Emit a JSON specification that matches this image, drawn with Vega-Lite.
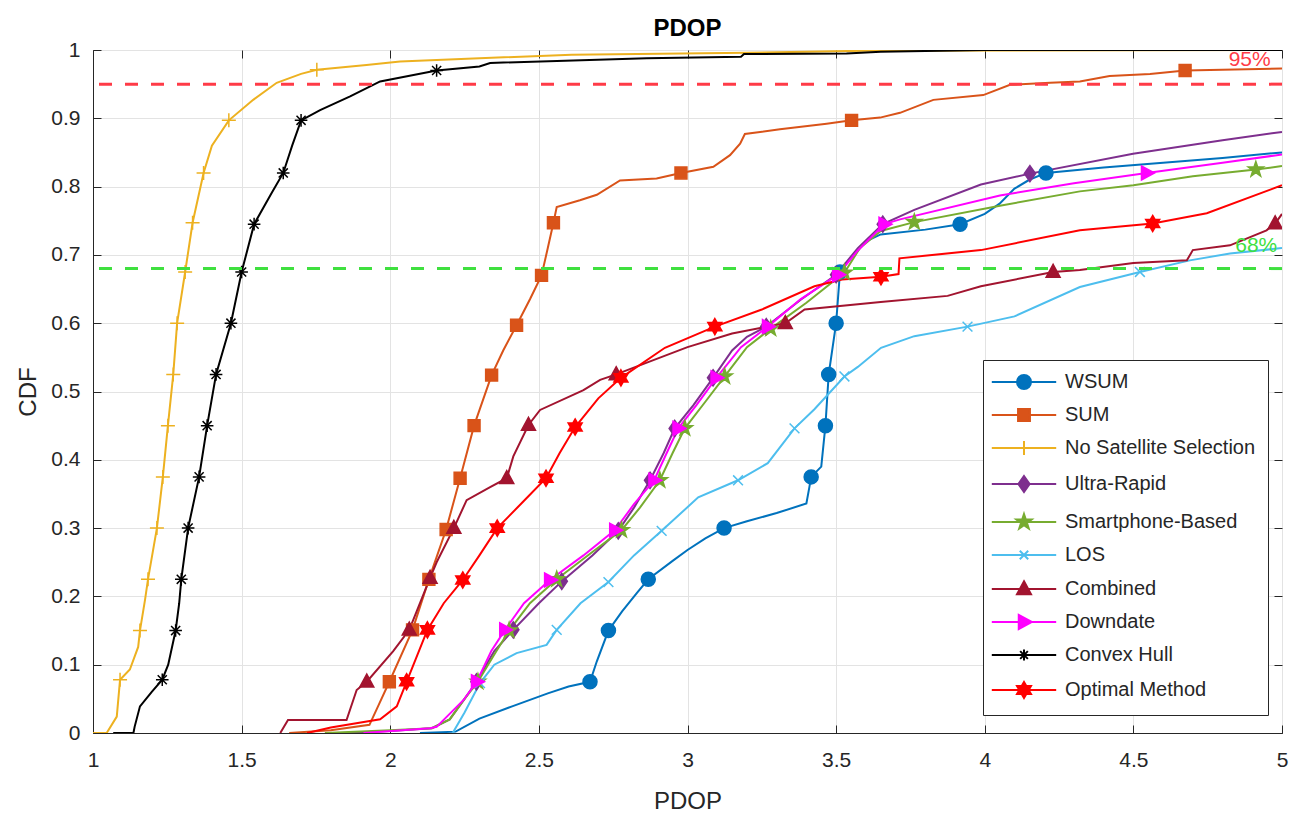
{
  "$schema": "https://vega.github.io/schema/vega-lite/v6.json",
  "width": 1189,
  "height": 683,
  "autosize": {"type": "none"},
  "padding": {"left": 93, "top": 50, "right": 7, "bottom": 85},
  "background": "white",
  "config": {
    "font": "Liberation Sans",
    "view": {"stroke": "#262626", "strokeWidth": 1},
    "axis": {
      "labelFont": "Liberation Sans", "labelFontSize": 21, "labelColor": "#262626",
      "titleFont": "Liberation Sans", "titleFontSize": 24, "titleFontWeight": "normal", "titleColor": "#262626",
      "gridColor": "#e3e3e3", "gridWidth": 1, "domainColor": "#262626", "tickColor": "#262626", "tickSize": -8
    }
  },
  "title": {"text": "PDOP", "fontSize": 24, "fontWeight": "bold", "font": "Liberation Sans", "color": "#000000", "offset": -2},
  "datasets": {
    "curves": [
      {"s":"WSUM","x":2.10,"y":0},{"s":"WSUM","x":2.22,"y":0.002},{"s":"WSUM","x":2.30,"y":0.021},{"s":"WSUM","x":2.41,"y":0.039},{"s":"WSUM","x":2.53,"y":0.058},{"s":"WSUM","x":2.60,"y":0.068},{"s":"WSUM","x":2.672,"y":0.075},{"s":"WSUM","x":2.695,"y":0.105},{"s":"WSUM","x":2.734,"y":0.15},{"s":"WSUM","x":2.78,"y":0.178},{"s":"WSUM","x":2.83,"y":0.205},{"s":"WSUM","x":2.868,"y":0.225},{"s":"WSUM","x":2.95,"y":0.252},{"s":"WSUM","x":3.0,"y":0.268},{"s":"WSUM","x":3.06,"y":0.285},{"s":"WSUM","x":3.123,"y":0.3},{"s":"WSUM","x":3.2,"y":0.31},{"s":"WSUM","x":3.3,"y":0.322},{"s":"WSUM","x":3.40,"y":0.336},{"s":"WSUM","x":3.41,"y":0.36},{"s":"WSUM","x":3.416,"y":0.375},{"s":"WSUM","x":3.45,"y":0.39},{"s":"WSUM","x":3.464,"y":0.45},{"s":"WSUM","x":3.475,"y":0.525},{"s":"WSUM","x":3.5,"y":0.6},{"s":"WSUM","x":3.513,"y":0.675},{"s":"WSUM","x":3.54,"y":0.69},{"s":"WSUM","x":3.6,"y":0.72},{"s":"WSUM","x":3.65,"y":0.73},{"s":"WSUM","x":3.8,"y":0.737},{"s":"WSUM","x":3.917,"y":0.745},{"s":"WSUM","x":4.0,"y":0.76},{"s":"WSUM","x":4.05,"y":0.775},{"s":"WSUM","x":4.1,"y":0.797},{"s":"WSUM","x":4.15,"y":0.81},{"s":"WSUM","x":4.206,"y":0.82},{"s":"WSUM","x":4.4,"y":0.828},{"s":"WSUM","x":4.6,"y":0.835},{"s":"WSUM","x":4.8,"y":0.842},{"s":"WSUM","x":5.0,"y":0.85},

      {"s":"SUM","x":1.66,"y":0},{"s":"SUM","x":1.8,"y":0.004},{"s":"SUM","x":1.93,"y":0.012},{"s":"SUM","x":1.96,"y":0.04},{"s":"SUM","x":1.997,"y":0.075},{"s":"SUM","x":2.075,"y":0.151},{"s":"SUM","x":2.13,"y":0.225},{"s":"SUM","x":2.188,"y":0.298},{"s":"SUM","x":2.235,"y":0.373},{"s":"SUM","x":2.282,"y":0.45},{"s":"SUM","x":2.341,"y":0.524},{"s":"SUM","x":2.38,"y":0.56},{"s":"SUM","x":2.425,"y":0.597},{"s":"SUM","x":2.47,"y":0.635},{"s":"SUM","x":2.509,"y":0.67},{"s":"SUM","x":2.53,"y":0.71},{"s":"SUM","x":2.549,"y":0.747},{"s":"SUM","x":2.56,"y":0.77},{"s":"SUM","x":2.638,"y":0.78},{"s":"SUM","x":2.695,"y":0.788},{"s":"SUM","x":2.773,"y":0.809},{"s":"SUM","x":2.896,"y":0.812},{"s":"SUM","x":2.978,"y":0.82},{"s":"SUM","x":3.087,"y":0.829},{"s":"SUM","x":3.143,"y":0.846},{"s":"SUM","x":3.177,"y":0.863},{"s":"SUM","x":3.193,"y":0.877},{"s":"SUM","x":3.311,"y":0.884},{"s":"SUM","x":3.468,"y":0.892},{"s":"SUM","x":3.552,"y":0.897},{"s":"SUM","x":3.648,"y":0.901},{"s":"SUM","x":3.715,"y":0.908},{"s":"SUM","x":3.827,"y":0.927},{"s":"SUM","x":3.995,"y":0.934},{"s":"SUM","x":4.085,"y":0.949},{"s":"SUM","x":4.22,"y":0.952},{"s":"SUM","x":4.32,"y":0.954},{"s":"SUM","x":4.42,"y":0.962},{"s":"SUM","x":4.556,"y":0.965},{"s":"SUM","x":4.674,"y":0.97},{"s":"SUM","x":5.0,"y":0.973},

      {"s":"No Satellite Selection","x":1.0,"y":0},{"s":"No Satellite Selection","x":1.046,"y":0},{"s":"No Satellite Selection","x":1.08,"y":0.024},{"s":"No Satellite Selection","x":1.091,"y":0.078},{"s":"No Satellite Selection","x":1.124,"y":0.093},{"s":"No Satellite Selection","x":1.152,"y":0.126},{"s":"No Satellite Selection","x":1.158,"y":0.15},{"s":"No Satellite Selection","x":1.175,"y":0.195},{"s":"No Satellite Selection","x":1.185,"y":0.225},{"s":"No Satellite Selection","x":1.215,"y":0.3},{"s":"No Satellite Selection","x":1.235,"y":0.375},{"s":"No Satellite Selection","x":1.252,"y":0.45},{"s":"No Satellite Selection","x":1.27,"y":0.525},{"s":"No Satellite Selection","x":1.283,"y":0.6},{"s":"No Satellite Selection","x":1.31,"y":0.675},{"s":"No Satellite Selection","x":1.335,"y":0.747},{"s":"No Satellite Selection","x":1.372,"y":0.82},{"s":"No Satellite Selection","x":1.40,"y":0.86},{"s":"No Satellite Selection","x":1.457,"y":0.897},{"s":"No Satellite Selection","x":1.539,"y":0.927},{"s":"No Satellite Selection","x":1.618,"y":0.952},{"s":"No Satellite Selection","x":1.70,"y":0.965},{"s":"No Satellite Selection","x":1.753,"y":0.971},{"s":"No Satellite Selection","x":1.92,"y":0.978},{"s":"No Satellite Selection","x":2.033,"y":0.983},{"s":"No Satellite Selection","x":2.30,"y":0.988},{"s":"No Satellite Selection","x":2.61,"y":0.993},{"s":"No Satellite Selection","x":3.2,"y":0.996},{"s":"No Satellite Selection","x":3.6,"y":0.999},{"s":"No Satellite Selection","x":5.0,"y":1.0},

      {"s":"Ultra-Rapid","x":1.85,"y":0},{"s":"Ultra-Rapid","x":2.0,"y":0.003},{"s":"Ultra-Rapid","x":2.14,"y":0.007},{"s":"Ultra-Rapid","x":2.2,"y":0.02},{"s":"Ultra-Rapid","x":2.25,"y":0.05},{"s":"Ultra-Rapid","x":2.29,"y":0.075},{"s":"Ultra-Rapid","x":2.35,"y":0.12},{"s":"Ultra-Rapid","x":2.414,"y":0.151},{"s":"Ultra-Rapid","x":2.5,"y":0.19},{"s":"Ultra-Rapid","x":2.577,"y":0.222},{"s":"Ultra-Rapid","x":2.68,"y":0.26},{"s":"Ultra-Rapid","x":2.767,"y":0.296},{"s":"Ultra-Rapid","x":2.82,"y":0.33},{"s":"Ultra-Rapid","x":2.874,"y":0.37},{"s":"Ultra-Rapid","x":2.92,"y":0.41},{"s":"Ultra-Rapid","x":2.957,"y":0.446},{"s":"Ultra-Rapid","x":3.02,"y":0.48},{"s":"Ultra-Rapid","x":3.086,"y":0.52},{"s":"Ultra-Rapid","x":3.15,"y":0.56},{"s":"Ultra-Rapid","x":3.2,"y":0.58},{"s":"Ultra-Rapid","x":3.265,"y":0.595},{"s":"Ultra-Rapid","x":3.383,"y":0.635},{"s":"Ultra-Rapid","x":3.5,"y":0.671},{"s":"Ultra-Rapid","x":3.573,"y":0.71},{"s":"Ultra-Rapid","x":3.657,"y":0.745},{"s":"Ultra-Rapid","x":3.763,"y":0.766},{"s":"Ultra-Rapid","x":3.987,"y":0.803},{"s":"Ultra-Rapid","x":4.152,"y":0.819},{"s":"Ultra-Rapid","x":4.499,"y":0.848},{"s":"Ultra-Rapid","x":4.8,"y":0.868},{"s":"Ultra-Rapid","x":5.0,"y":0.88},

      {"s":"Smartphone-Based","x":1.78,"y":0},{"s":"Smartphone-Based","x":2.0,"y":0.004},{"s":"Smartphone-Based","x":2.14,"y":0.007},{"s":"Smartphone-Based","x":2.2,"y":0.02},{"s":"Smartphone-Based","x":2.25,"y":0.05},{"s":"Smartphone-Based","x":2.295,"y":0.075},{"s":"Smartphone-Based","x":2.35,"y":0.115},{"s":"Smartphone-Based","x":2.40,"y":0.15},{"s":"Smartphone-Based","x":2.47,"y":0.19},{"s":"Smartphone-Based","x":2.56,"y":0.225},{"s":"Smartphone-Based","x":2.68,"y":0.265},{"s":"Smartphone-Based","x":2.778,"y":0.297},{"s":"Smartphone-Based","x":2.84,"y":0.33},{"s":"Smartphone-Based","x":2.907,"y":0.37},{"s":"Smartphone-Based","x":2.95,"y":0.41},{"s":"Smartphone-Based","x":2.991,"y":0.446},{"s":"Smartphone-Based","x":3.06,"y":0.485},{"s":"Smartphone-Based","x":3.125,"y":0.522},{"s":"Smartphone-Based","x":3.2,"y":0.565},{"s":"Smartphone-Based","x":3.28,"y":0.592},{"s":"Smartphone-Based","x":3.4,"y":0.63},{"s":"Smartphone-Based","x":3.528,"y":0.674},{"s":"Smartphone-Based","x":3.58,"y":0.71},{"s":"Smartphone-Based","x":3.65,"y":0.735},{"s":"Smartphone-Based","x":3.763,"y":0.748},{"s":"Smartphone-Based","x":4.051,"y":0.772},{"s":"Smartphone-Based","x":4.32,"y":0.793},{"s":"Smartphone-Based","x":4.5,"y":0.802},{"s":"Smartphone-Based","x":4.7,"y":0.815},{"s":"Smartphone-Based","x":4.912,"y":0.825},{"s":"Smartphone-Based","x":5.0,"y":0.83},

      {"s":"LOS","x":2.21,"y":0},{"s":"LOS","x":2.25,"y":0.03},{"s":"LOS","x":2.302,"y":0.073},{"s":"LOS","x":2.35,"y":0.1},{"s":"LOS","x":2.425,"y":0.117},{"s":"LOS","x":2.526,"y":0.129},{"s":"LOS","x":2.56,"y":0.151},{"s":"LOS","x":2.64,"y":0.19},{"s":"LOS","x":2.734,"y":0.221},{"s":"LOS","x":2.82,"y":0.26},{"s":"LOS","x":2.913,"y":0.296},{"s":"LOS","x":3.036,"y":0.345},{"s":"LOS","x":3.17,"y":0.37},{"s":"LOS","x":3.27,"y":0.395},{"s":"LOS","x":3.36,"y":0.446},{"s":"LOS","x":3.427,"y":0.474},{"s":"LOS","x":3.528,"y":0.522},{"s":"LOS","x":3.573,"y":0.536},{"s":"LOS","x":3.651,"y":0.564},{"s":"LOS","x":3.763,"y":0.581},{"s":"LOS","x":3.942,"y":0.595},{"s":"LOS","x":4.1,"y":0.61},{"s":"LOS","x":4.32,"y":0.653},{"s":"LOS","x":4.522,"y":0.675},{"s":"LOS","x":4.69,"y":0.692},{"s":"LOS","x":4.825,"y":0.702},{"s":"LOS","x":5.0,"y":0.71},

      {"s":"Combined","x":1.63,"y":0},{"s":"Combined","x":1.656,"y":0.019},{"s":"Combined","x":1.853,"y":0.019},{"s":"Combined","x":1.887,"y":0.063},{"s":"Combined","x":1.921,"y":0.075},{"s":"Combined","x":2.01,"y":0.12},{"s":"Combined","x":2.064,"y":0.151},{"s":"Combined","x":2.134,"y":0.227},{"s":"Combined","x":2.156,"y":0.25},{"s":"Combined","x":2.214,"y":0.30},{"s":"Combined","x":2.257,"y":0.341},{"s":"Combined","x":2.336,"y":0.36},{"s":"Combined","x":2.392,"y":0.373},{"s":"Combined","x":2.414,"y":0.405},{"s":"Combined","x":2.465,"y":0.451},{"s":"Combined","x":2.504,"y":0.473},{"s":"Combined","x":2.65,"y":0.502},{"s":"Combined","x":2.706,"y":0.517},{"s":"Combined","x":2.76,"y":0.525},{"s":"Combined","x":2.85,"y":0.54},{"s":"Combined","x":3.0,"y":0.565},{"s":"Combined","x":3.15,"y":0.585},{"s":"Combined","x":3.329,"y":0.6},{"s":"Combined","x":3.394,"y":0.62},{"s":"Combined","x":3.65,"y":0.631},{"s":"Combined","x":3.875,"y":0.64},{"s":"Combined","x":3.987,"y":0.654},{"s":"Combined","x":4.23,"y":0.675},{"s":"Combined","x":4.32,"y":0.678},{"s":"Combined","x":4.5,"y":0.688},{"s":"Combined","x":4.68,"y":0.692},{"s":"Combined","x":4.70,"y":0.707},{"s":"Combined","x":4.825,"y":0.714},{"s":"Combined","x":4.948,"y":0.736},{"s":"Combined","x":4.977,"y":0.746},{"s":"Combined","x":5.0,"y":0.76},

      {"s":"Downdate","x":1.91,"y":0},{"s":"Downdate","x":2.134,"y":0.007},{"s":"Downdate","x":2.156,"y":0.009},{"s":"Downdate","x":2.246,"y":0.048},{"s":"Downdate","x":2.291,"y":0.075},{"s":"Downdate","x":2.34,"y":0.12},{"s":"Downdate","x":2.386,"y":0.151},{"s":"Downdate","x":2.45,"y":0.19},{"s":"Downdate","x":2.537,"y":0.224},{"s":"Downdate","x":2.65,"y":0.26},{"s":"Downdate","x":2.756,"y":0.297},{"s":"Downdate","x":2.82,"y":0.335},{"s":"Downdate","x":2.888,"y":0.37},{"s":"Downdate","x":2.93,"y":0.41},{"s":"Downdate","x":2.969,"y":0.446},{"s":"Downdate","x":3.03,"y":0.48},{"s":"Downdate","x":3.097,"y":0.52},{"s":"Downdate","x":3.18,"y":0.565},{"s":"Downdate","x":3.27,"y":0.595},{"s":"Downdate","x":3.38,"y":0.635},{"s":"Downdate","x":3.506,"y":0.671},{"s":"Downdate","x":3.57,"y":0.705},{"s":"Downdate","x":3.662,"y":0.745},{"s":"Downdate","x":3.715,"y":0.752},{"s":"Downdate","x":4.051,"y":0.787},{"s":"Downdate","x":4.3,"y":0.805},{"s":"Downdate","x":4.545,"y":0.82},{"s":"Downdate","x":4.8,"y":0.835},{"s":"Downdate","x":5.0,"y":0.847},

      {"s":"Convex Hull","x":1.068,"y":0},{"s":"Convex Hull","x":1.136,"y":0},{"s":"Convex Hull","x":1.14,"y":0.009},{"s":"Convex Hull","x":1.158,"y":0.039},{"s":"Convex Hull","x":1.197,"y":0.06},{"s":"Convex Hull","x":1.233,"y":0.078},{"s":"Convex Hull","x":1.253,"y":0.1},{"s":"Convex Hull","x":1.278,"y":0.15},{"s":"Convex Hull","x":1.29,"y":0.19},{"s":"Convex Hull","x":1.297,"y":0.225},{"s":"Convex Hull","x":1.32,"y":0.3},{"s":"Convex Hull","x":1.357,"y":0.375},{"s":"Convex Hull","x":1.384,"y":0.45},{"s":"Convex Hull","x":1.414,"y":0.525},{"s":"Convex Hull","x":1.464,"y":0.6},{"s":"Convex Hull","x":1.50,"y":0.675},{"s":"Convex Hull","x":1.542,"y":0.745},{"s":"Convex Hull","x":1.60,"y":0.79},{"s":"Convex Hull","x":1.64,"y":0.82},{"s":"Convex Hull","x":1.67,"y":0.86},{"s":"Convex Hull","x":1.70,"y":0.897},{"s":"Convex Hull","x":1.764,"y":0.912},{"s":"Convex Hull","x":1.865,"y":0.932},{"s":"Convex Hull","x":1.966,"y":0.954},{"s":"Convex Hull","x":2.156,"y":0.97},{"s":"Convex Hull","x":2.30,"y":0.976},{"s":"Convex Hull","x":2.336,"y":0.981},{"s":"Convex Hull","x":2.863,"y":0.988},{"s":"Convex Hull","x":3.18,"y":0.99},{"s":"Convex Hull","x":3.19,"y":0.994},{"s":"Convex Hull","x":3.535,"y":0.995},{"s":"Convex Hull","x":3.65,"y":0.9975},{"s":"Convex Hull","x":4.0,"y":1.0},{"s":"Convex Hull","x":5.0,"y":1.0},

      {"s":"Optimal Method","x":1.72,"y":0},{"s":"Optimal Method","x":1.8,"y":0.008},{"s":"Optimal Method","x":1.966,"y":0.02},{"s":"Optimal Method","x":2.022,"y":0.039},{"s":"Optimal Method","x":2.055,"y":0.075},{"s":"Optimal Method","x":2.125,"y":0.151},{"s":"Optimal Method","x":2.18,"y":0.19},{"s":"Optimal Method","x":2.244,"y":0.224},{"s":"Optimal Method","x":2.30,"y":0.26},{"s":"Optimal Method","x":2.36,"y":0.30},{"s":"Optimal Method","x":2.45,"y":0.34},{"s":"Optimal Method","x":2.524,"y":0.373},{"s":"Optimal Method","x":2.57,"y":0.41},{"s":"Optimal Method","x":2.622,"y":0.448},{"s":"Optimal Method","x":2.7,"y":0.49},{"s":"Optimal Method","x":2.776,"y":0.52},{"s":"Optimal Method","x":2.924,"y":0.564},{"s":"Optimal Method","x":3.092,"y":0.595},{"s":"Optimal Method","x":3.25,"y":0.62},{"s":"Optimal Method","x":3.427,"y":0.654},{"s":"Optimal Method","x":3.52,"y":0.664},{"s":"Optimal Method","x":3.651,"y":0.668},{"s":"Optimal Method","x":3.71,"y":0.672},{"s":"Optimal Method","x":3.713,"y":0.695},{"s":"Optimal Method","x":3.987,"y":0.707},{"s":"Optimal Method","x":4.32,"y":0.736},{"s":"Optimal Method","x":4.565,"y":0.746},{"s":"Optimal Method","x":4.747,"y":0.761},{"s":"Optimal Method","x":5.0,"y":0.802}
    ],
    "marks": [
      {"s":"WSUM","x":2.672,"y":0.075},{"s":"WSUM","x":2.734,"y":0.15},{"s":"WSUM","x":2.868,"y":0.225},{"s":"WSUM","x":3.123,"y":0.3},{"s":"WSUM","x":3.416,"y":0.375},{"s":"WSUM","x":3.464,"y":0.45},{"s":"WSUM","x":3.475,"y":0.525},{"s":"WSUM","x":3.5,"y":0.6},{"s":"WSUM","x":3.513,"y":0.675},{"s":"WSUM","x":3.917,"y":0.745},{"s":"WSUM","x":4.206,"y":0.82},
      {"s":"SUM","x":1.997,"y":0.075},{"s":"SUM","x":2.075,"y":0.151},{"s":"SUM","x":2.13,"y":0.225},{"s":"SUM","x":2.188,"y":0.298},{"s":"SUM","x":2.235,"y":0.373},{"s":"SUM","x":2.282,"y":0.45},{"s":"SUM","x":2.341,"y":0.524},{"s":"SUM","x":2.425,"y":0.597},{"s":"SUM","x":2.509,"y":0.67},{"s":"SUM","x":2.549,"y":0.747},{"s":"SUM","x":2.978,"y":0.82},{"s":"SUM","x":3.552,"y":0.897},{"s":"SUM","x":4.674,"y":0.97},
      {"s":"No Satellite Selection","x":1.091,"y":0.078},{"s":"No Satellite Selection","x":1.158,"y":0.15},{"s":"No Satellite Selection","x":1.185,"y":0.225},{"s":"No Satellite Selection","x":1.215,"y":0.3},{"s":"No Satellite Selection","x":1.235,"y":0.375},{"s":"No Satellite Selection","x":1.252,"y":0.45},{"s":"No Satellite Selection","x":1.27,"y":0.525},{"s":"No Satellite Selection","x":1.283,"y":0.6},{"s":"No Satellite Selection","x":1.31,"y":0.675},{"s":"No Satellite Selection","x":1.335,"y":0.747},{"s":"No Satellite Selection","x":1.372,"y":0.82},{"s":"No Satellite Selection","x":1.457,"y":0.897},{"s":"No Satellite Selection","x":1.753,"y":0.971},
      {"s":"Ultra-Rapid","x":2.29,"y":0.075},{"s":"Ultra-Rapid","x":2.414,"y":0.151},{"s":"Ultra-Rapid","x":2.577,"y":0.222},{"s":"Ultra-Rapid","x":2.767,"y":0.296},{"s":"Ultra-Rapid","x":2.874,"y":0.37},{"s":"Ultra-Rapid","x":2.957,"y":0.446},{"s":"Ultra-Rapid","x":3.086,"y":0.52},{"s":"Ultra-Rapid","x":3.265,"y":0.595},{"s":"Ultra-Rapid","x":3.5,"y":0.671},{"s":"Ultra-Rapid","x":3.657,"y":0.745},{"s":"Ultra-Rapid","x":4.152,"y":0.819},
      {"s":"Smartphone-Based","x":2.295,"y":0.075},{"s":"Smartphone-Based","x":2.40,"y":0.15},{"s":"Smartphone-Based","x":2.56,"y":0.225},{"s":"Smartphone-Based","x":2.778,"y":0.297},{"s":"Smartphone-Based","x":2.907,"y":0.37},{"s":"Smartphone-Based","x":2.991,"y":0.446},{"s":"Smartphone-Based","x":3.125,"y":0.522},{"s":"Smartphone-Based","x":3.28,"y":0.592},{"s":"Smartphone-Based","x":3.528,"y":0.674},{"s":"Smartphone-Based","x":3.763,"y":0.748},{"s":"Smartphone-Based","x":4.912,"y":0.825},
      {"s":"LOS","x":2.302,"y":0.073},{"s":"LOS","x":2.56,"y":0.151},{"s":"LOS","x":2.734,"y":0.221},{"s":"LOS","x":2.913,"y":0.296},{"s":"LOS","x":3.17,"y":0.37},{"s":"LOS","x":3.36,"y":0.446},{"s":"LOS","x":3.528,"y":0.522},{"s":"LOS","x":3.942,"y":0.595},{"s":"LOS","x":4.522,"y":0.675},
      {"s":"Combined","x":1.921,"y":0.075},{"s":"Combined","x":2.064,"y":0.151},{"s":"Combined","x":2.134,"y":0.227},{"s":"Combined","x":2.214,"y":0.30},{"s":"Combined","x":2.392,"y":0.373},{"s":"Combined","x":2.465,"y":0.451},{"s":"Combined","x":2.76,"y":0.525},{"s":"Combined","x":3.329,"y":0.6},{"s":"Combined","x":4.23,"y":0.675},{"s":"Combined","x":4.977,"y":0.746},
      {"s":"Downdate","x":2.291,"y":0.075},{"s":"Downdate","x":2.386,"y":0.151},{"s":"Downdate","x":2.537,"y":0.224},{"s":"Downdate","x":2.756,"y":0.297},{"s":"Downdate","x":2.888,"y":0.37},{"s":"Downdate","x":2.969,"y":0.446},{"s":"Downdate","x":3.097,"y":0.52},{"s":"Downdate","x":3.27,"y":0.595},{"s":"Downdate","x":3.506,"y":0.671},{"s":"Downdate","x":3.662,"y":0.745},{"s":"Downdate","x":4.545,"y":0.82},
      {"s":"Convex Hull","x":1.233,"y":0.078},{"s":"Convex Hull","x":1.278,"y":0.15},{"s":"Convex Hull","x":1.297,"y":0.225},{"s":"Convex Hull","x":1.32,"y":0.3},{"s":"Convex Hull","x":1.357,"y":0.375},{"s":"Convex Hull","x":1.384,"y":0.45},{"s":"Convex Hull","x":1.414,"y":0.525},{"s":"Convex Hull","x":1.464,"y":0.6},{"s":"Convex Hull","x":1.50,"y":0.675},{"s":"Convex Hull","x":1.542,"y":0.745},{"s":"Convex Hull","x":1.64,"y":0.82},{"s":"Convex Hull","x":1.70,"y":0.897},{"s":"Convex Hull","x":2.156,"y":0.97},
      {"s":"Optimal Method","x":2.055,"y":0.075},{"s":"Optimal Method","x":2.125,"y":0.151},{"s":"Optimal Method","x":2.244,"y":0.224},{"s":"Optimal Method","x":2.36,"y":0.30},{"s":"Optimal Method","x":2.524,"y":0.373},{"s":"Optimal Method","x":2.622,"y":0.448},{"s":"Optimal Method","x":2.776,"y":0.52},{"s":"Optimal Method","x":3.092,"y":0.595},{"s":"Optimal Method","x":3.651,"y":0.668},{"s":"Optimal Method","x":4.565,"y":0.746}
    ],
    "refs": [{"k":"95%","y":0.95},{"k":"68%","y":0.68}],
    "notes": [{"k":"95%","x":4.962,"y":0.985,"t":"95%"},{"k":"68%","x":4.984,"y":0.713,"t":"68%"}]
  },
  "layer": [
    {
      "data": {"name": "curves"},
      "mark": {"type": "line", "strokeWidth": 2, "clip": true},
      "encoding": {
        "x": {"field": "x", "type": "quantitative",
              "scale": {"domain": [1, 5], "nice": false, "zero": false},
              "axis": {"orient": "bottom", "title": "PDOP", "values": [1,1.5,2,2.5,3,3.5,4,4.5,5], "format": ".1~f", "grid": true, "labelPadding": 24, "titlePadding": 19, "labelFlush": false}},
        "y": {"field": "y", "type": "quantitative",
              "scale": {"domain": [0, 1], "nice": false},
              "axis": {"orient": "left", "title": "CDF", "values": [0,0.1,0.2,0.3,0.4,0.5,0.6,0.7,0.8,0.9,1], "format": ".1~f", "grid": true, "labelPadding": 21, "titlePadding": 10, "labelFlush": false}},
        "stroke": {"field": "s", "type": "nominal", "legend": null,
                   "scale": {"domain": ["WSUM","SUM","No Satellite Selection","Ultra-Rapid","Smartphone-Based","LOS","Combined","Downdate","Convex Hull","Optimal Method"],
                             "range": ["#0072BD","#D95319","#EDB120","#7E2F8E","#77AC30","#4DBEEE","#A2142F","#FF00FF","#000000","#FF0000"]}}
      }
    },
    {
      "data": {"name": "marks"},
      "mark": {"type": "point", "filled": true, "size": 196, "opacity": 1, "strokeWidth": 1.5, "clip": true},
      "encoding": {
        "x": {"field": "x", "type": "quantitative", "axis": null},
        "y": {"field": "y", "type": "quantitative", "axis": null},
        "fill": {"field": "s", "type": "nominal", "legend": null,
                 "scale": {"domain": ["WSUM","SUM","No Satellite Selection","Ultra-Rapid","Smartphone-Based","LOS","Combined","Downdate","Convex Hull","Optimal Method"],
                           "range": ["#0072BD","#D95319","#EDB120","#7E2F8E","#77AC30","#4DBEEE","#A2142F","#FF00FF","#000000","#FF0000"]}},
        "stroke": {"field": "s", "type": "nominal", "legend": null,
                   "scale": {"domain": ["WSUM","SUM","No Satellite Selection","Ultra-Rapid","Smartphone-Based","LOS","Combined","Downdate","Convex Hull","Optimal Method"],
                             "range": ["#0072BD","#D95319","#EDB120","#7E2F8E","#77AC30","#4DBEEE","#A2142F","#FF00FF","#000000","#FF0000"]}},
        "shape": {"field": "s", "type": "nominal", "legend": null,
                  "scale": {"domain": ["WSUM","SUM","No Satellite Selection","Ultra-Rapid","Smartphone-Based","LOS","Combined","Downdate","Convex Hull","Optimal Method"],
                            "range": [
                              "M1,0A1,1 0 1,1 -1,0A1,1 0 1,1 1,0Z",
                              "M-0.85,-0.85H0.85V0.85H-0.85Z",
                              "M-1,0H1M0,-1V1",
                              "M0,-1.15L0.8,0L0,1.15L-0.8,0Z",
                              "M0,-1.15L0.26,-0.36L1.09,-0.36L0.43,0.14L0.68,0.93L0,0.45L-0.68,0.93L-0.43,0.14L-1.09,-0.36L-0.26,-0.36Z",
                              "M-0.7,-0.7L0.7,0.7M-0.7,0.7L0.7,-0.7",
                              "M0,-1.1L1,0.75L-1,0.75Z",
                              "M1.1,0L-0.75,-1L-0.75,1Z",
                              "M-0.9,0H0.9M0,-0.9V0.9M-0.65,-0.65L0.65,0.65M-0.65,0.65L0.65,-0.65",
                              "M0,-1.15L1,0.58L-1,0.58ZM0,1.15L-1,-0.58L1,-0.58Z"
                            ]}}
      }
    },
    {
      "data": {"name": "refs"},
      "mark": {"type": "rule", "strokeDash": [13, 13], "strokeWidth": 3},
      "encoding": {
        "y": {"field": "y", "type": "quantitative", "axis": null},
        "color": {"field": "k", "type": "nominal", "legend": null,
                  "scale": {"domain": ["95%", "68%"], "range": ["#FF3B47", "#3FE03F"]}}
      }
    },
    {
      "data": {"name": "notes"},
      "mark": {"type": "text", "align": "right", "baseline": "middle", "fontSize": 21, "font": "Liberation Sans"},
      "encoding": {
        "x": {"field": "x", "type": "quantitative",
              "axis": {"orient": "top", "labels": false, "title": null, "grid": false, "domain": false, "minExtent": 0, "maxExtent": 0, "values": [1,1.5,2,2.5,3,3.5,4,4.5,5]}},
        "y": {"field": "y", "type": "quantitative",
              "axis": {"orient": "right", "labels": false, "title": null, "grid": false, "domain": false, "minExtent": 0, "maxExtent": 0, "values": [0,0.1,0.2,0.3,0.4,0.5,0.6,0.7,0.8,0.9,1]}},
        "text": {"field": "t"},
        "color": {"field": "k", "type": "nominal", "legend": null}
      }
    },
    {
      "data": {"values": []},
      "mark": {"type": "point", "filled": true, "size": 196, "opacity": 1, "strokeWidth": 2},
      "encoding": {
        "fill": {"field": "s", "type": "nominal",
                 "scale": {"domain": ["WSUM","SUM","No Satellite Selection","Ultra-Rapid","Smartphone-Based","LOS","Combined","Downdate","Convex Hull","Optimal Method"],
                           "range": ["#0072BD","#D95319","#EDB120","#7E2F8E","#77AC30","#4DBEEE","#A2142F","#FF00FF","#000000","#FF0000"]},
                 "legend": {"orient": "none", "legendX": 890, "legendY": 310, "title": null, "labelFont": "Liberation Sans", "labelFontSize": 20, "labelColor": "#262626", "labelLimit": 400, "symbolSize": 196, "symbolStrokeWidth": 2, "symbolOffset": 19, "labelOffset": 31, "rowPadding": 12, "padding": 12, "fillColor": "white", "strokeColor": "#262626", "symbolOpacity": 1}},
        "stroke": {"field": "s", "type": "nominal",
                   "scale": {"domain": ["WSUM","SUM","No Satellite Selection","Ultra-Rapid","Smartphone-Based","LOS","Combined","Downdate","Convex Hull","Optimal Method"],
                             "range": ["#0072BD","#D95319","#EDB120","#7E2F8E","#77AC30","#4DBEEE","#A2142F","#FF00FF","#000000","#FF0000"]},
                   "legend": {"orient": "none", "legendX": 890, "legendY": 310, "title": null, "labelFont": "Liberation Sans", "labelFontSize": 20, "labelColor": "#262626", "labelLimit": 400, "symbolSize": 196, "symbolStrokeWidth": 2, "symbolOffset": 19, "labelOffset": 31, "rowPadding": 12, "padding": 12, "fillColor": "white", "strokeColor": "#262626", "symbolOpacity": 1}},
        "shape": {"field": "s", "type": "nominal",
                  "scale": {"domain": ["WSUM","SUM","No Satellite Selection","Ultra-Rapid","Smartphone-Based","LOS","Combined","Downdate","Convex Hull","Optimal Method"],
                            "range": [
                              "M-4.6,0H4.6M1,0A1,1 0 1,1 -1,0A1,1 0 1,1 1,0Z",
                              "M-4.6,0H4.6M-0.85,-0.85H0.85V0.85H-0.85Z",
                              "M-4.6,0H4.6M0,-1V1",
                              "M-4.6,0H4.6M0,-1.15L0.8,0L0,1.15L-0.8,0Z",
                              "M-4.6,0H4.6M0,-1.15L0.26,-0.36L1.09,-0.36L0.43,0.14L0.68,0.93L0,0.45L-0.68,0.93L-0.43,0.14L-1.09,-0.36L-0.26,-0.36Z",
                              "M-4.6,0H4.6M-0.6,-0.6L0.6,0.6M-0.6,0.6L0.6,-0.6",
                              "M-4.6,0H4.6M0,-1.1L1,0.75L-1,0.75Z",
                              "M-4.6,0H4.6M1.1,0L-0.75,-1L-0.75,1Z",
                              "M-4.6,0H4.6M0,-0.8V0.8M-0.55,-0.55L0.55,0.55M-0.55,0.55L0.55,-0.55",
                              "M-4.6,0H4.6M0,-1.15L1,0.58L-1,0.58ZM0,1.15L-1,-0.58L1,-0.58Z"
                            ]},
                  "legend": {"orient": "none", "legendX": 890, "legendY": 310, "title": null, "labelFont": "Liberation Sans", "labelFontSize": 20, "labelColor": "#262626", "labelLimit": 400, "symbolSize": 196, "symbolStrokeWidth": 2, "symbolOffset": 19, "labelOffset": 31, "rowPadding": 12, "padding": 12, "fillColor": "white", "strokeColor": "#262626", "symbolOpacity": 1}}
      }
    }
  ],
  "resolve": {"scale": {"shape": "independent", "fill": "independent", "stroke": "independent"}, "axis": {"x": "independent", "y": "independent"}}
}
